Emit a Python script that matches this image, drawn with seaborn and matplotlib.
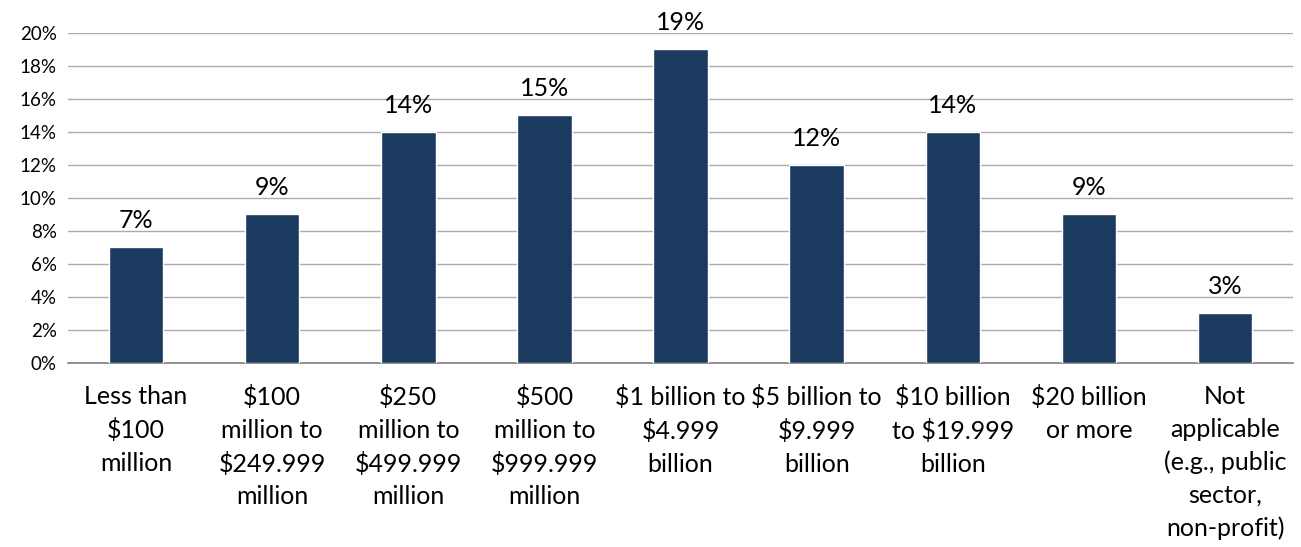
import matplotlib
matplotlib.use("Agg")
import matplotlib.pyplot as plt
import seaborn as sns
import pandas as pd
from matplotlib.ticker import PercentFormatter, MultipleLocator, FixedLocator

categories = [
    "Less than\n$100\nmillion",
    "$100\nmillion to\n$249.999\nmillion",
    "$250\nmillion to\n$499.999\nmillion",
    "$500\nmillion to\n$999.999\nmillion",
    "$1 billion to\n$4.999\nbillion",
    "$5 billion to\n$9.999\nbillion",
    "$10 billion\nto $19.999\nbillion",
    "$20 billion\nor more",
    "Not\napplicable\n(e.g., public\nsector,\nnon-profit)",
]
values = [7, 9, 14, 15, 19, 12, 14, 9, 3]

df = pd.DataFrame({"cat": categories, "val": values})

sns.set_theme(style="white")
plt.rcParams["font.family"] = ["Lato", "DejaVu Sans"]

fig = plt.figure(figsize=(13.01, 5.47), dpi=100)
ax = fig.add_axes([0.0523, 0.3364, 0.9416, 0.6033])

sns.barplot(data=df, x="cat", y="val", color="#1B3A5F", width=0.4, ax=ax,
            saturation=1, zorder=3)

ax.set_ylim(0, 20)
ax.set_xlim(-0.5, len(categories) - 0.5)
ax.yaxis.set_major_locator(MultipleLocator(2))
ax.yaxis.set_major_formatter(PercentFormatter(decimals=0))
ax.grid(axis="y", color="#ABABAB", linewidth=1, zorder=0)
ax.set_axisbelow(True)

for s in ["top", "right", "left"]:
    ax.spines[s].set_visible(False)
ax.spines["bottom"].set_color("#808080")
ax.spines["bottom"].set_linewidth(1.2)

ax.set_xlabel("")
ax.set_ylabel("")
ax.tick_params(axis="y", labelsize=13.5, length=0, pad=8, labelcolor="#000000")
ax.tick_params(axis="x", which="major", length=0, pad=16, labelsize=18, labelcolor="#000000")
ax.set_xticks(range(len(categories)))
ax.set_xticklabels(categories, linespacing=1.5, va="top", ha="center")
ax.xaxis.set_minor_locator(FixedLocator([i - 0.5 for i in range(len(categories) + 1)]))
ax.tick_params(axis="x", which="minor", length=9, width=1.2, color="#808080", direction="out")

for i, v in enumerate(values):
    ax.annotate(f"{v}%", (i, v), xytext=(0, 11), textcoords="offset points",
                ha="center", va="bottom", fontsize=18, color="#000000")

fig.savefig("out.png", dpi=100)
